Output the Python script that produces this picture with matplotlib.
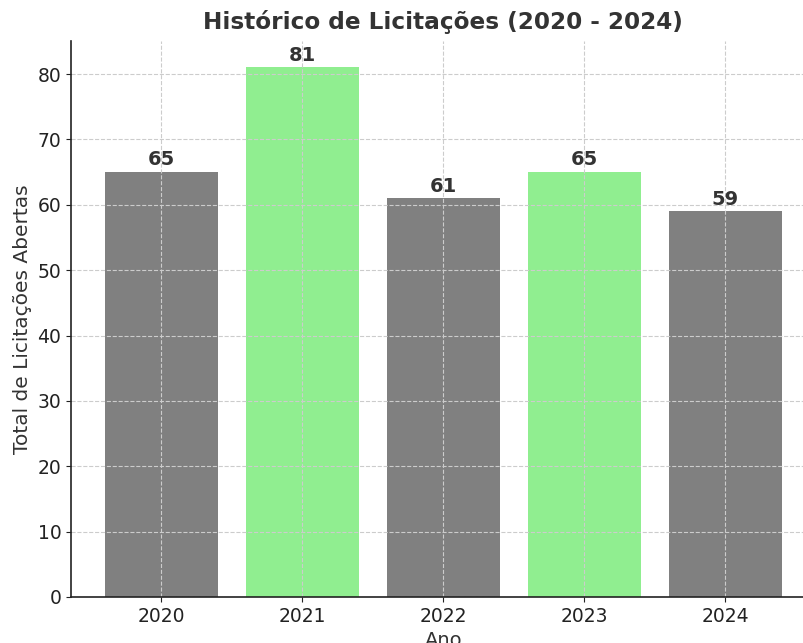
import matplotlib.pyplot as plt

anos = ["2020", "2021", "2022", "2023", "2024"]
totais = [65, 81, 61, 65, 59]
cores = ["gray", "lightgreen", "gray", "lightgreen", "gray"]

texto = "#333333"

fig = plt.figure(figsize=(8.04, 6.43), dpi=100)
# the reference is cropped on the right and bottom, so the axes run past the figure edge
ax = fig.add_axes([71 / 804, 46 / 643, 744.5 / 804, 556 / 643])

x = range(len(anos))
barras = ax.bar(x, totais, color=cores, width=0.8)
ax.set_xticks(list(x))
ax.set_xticklabels(anos)

for b, v in zip(barras, totais):
    ax.text(b.get_x() + b.get_width() / 2, v + 0.4, str(v), ha="center", va="bottom",
            fontsize=14, fontweight="bold", color=texto)

ax.set_title("Histórico de Licitações (2020 - 2024)", fontsize=16.7, fontweight="bold",
             color=texto, pad=9)
ax.set_xlabel("Ano", fontsize=14, color=texto)
ax.set_ylabel("Total de Licitações Abertas", fontsize=14.5, color=texto, labelpad=4)
ax.grid(True, linestyle="--", color="#cccccc", linewidth=0.8)

for s in ["top", "right"]:
    ax.spines[s].set_visible(False)
for s in ["left", "bottom"]:
    ax.spines[s].set_color("#222222")
    ax.spines[s].set_linewidth(1.2)
ax.tick_params(colors="#222222", labelsize=13.5)

fig.savefig("out.png", dpi=100)
